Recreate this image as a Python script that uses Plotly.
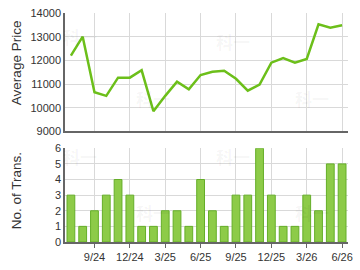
import plotly.graph_objects as go

months = ["7/24", "8/24", "9/24", "10/24", "11/24", "12/24", "1/25", "2/25", "3/25",
          "4/25", "5/25", "6/25", "7/25", "8/25", "9/25", "10/25", "11/25", "12/25",
          "1/26", "2/26", "3/26", "4/26", "5/26", "6/26"]
avg_price = [12200, 13000, 10650, 10500, 11270, 11270, 11580, 9850, 10500,
             11100, 10780, 11380, 11520, 11560, 11220, 10720, 10980, 11900,
             12100, 11900, 12060, 13520, 13380, 13480]
transactions = [3, 1, 2, 3, 4, 3, 1, 1, 2, 2, 1, 4, 2, 1, 3, 3, 6, 3, 1, 1, 3, 2, 5, 5]
tick_labels = ["9/24", "12/24", "3/25", "6/25", "9/25", "12/25", "3/26", "6/26"]
price_ticks = [9000, 10000, 11000, 12000, 13000, 14000]
price_tick_text = ["9000", "10000", "11000", "12000", "13000", "14000"]
trans_ticks = [0, 1, 2, 3, 4, 5, 6]

W, H = 360, 270
L, R, T, B = 65, 7, 7, 26
pw, ph = W - L - R, H - T - B

def px(x):
    return (x - L) / pw

def py(y):
    return (H - B - y) / ph

fig = go.Figure()
fig.add_trace(go.Scatter(x=months, y=avg_price, mode="lines",
                         line=dict(color="#6cbf1a", width=2.5),
                         xaxis="x", yaxis="y", hoverinfo="skip"))
fig.add_trace(go.Bar(x=months, y=transactions, width=0.66,
                     marker=dict(color="#8dcb48", line=dict(color="#65ae28", width=1)),
                     xaxis="x2", yaxis="y2", hoverinfo="skip"))

font_family = "Liberation Sans, Arial, sans-serif"
grid = "#d9d9d9"
axis_col = "#666666"

common_x = dict(type="category", categoryorder="array", categoryarray=months,
                range=[-0.5, 23.5], tickvals=tick_labels, ticktext=tick_labels,
                showgrid=True, gridcolor=grid, gridwidth=1, showline=True,
                linecolor=axis_col, linewidth=1.5, zeroline=False)

top_bottom = py(129.5)
bot_top = py(147)

fig.update_layout(
    width=W, height=H,
    margin=dict(l=L, r=R, t=T, b=B),
    paper_bgcolor="white", plot_bgcolor="white",
    showlegend=False,
    font=dict(family=font_family, size=11, color="#333333"),
    xaxis=dict(**common_x, domain=[0, 1], anchor="y", showticklabels=False, ticks=""),
    yaxis=dict(domain=[top_bottom, 1], range=[9000, 14000], tickvals=price_ticks,
               ticktext=price_tick_text,
               showgrid=True, gridcolor=grid, showline=True, linecolor=axis_col,
               linewidth=1.5, zeroline=False, ticks="", tickfont=dict(size=11)),
    xaxis2=dict(**common_x, domain=[0, 1], anchor="y2", ticks="outside", ticklen=4,
                tickcolor=axis_col, tickfont=dict(size=11)),
    yaxis2=dict(domain=[0, bot_top], range=[0, 6], tickvals=trans_ticks,
                showgrid=True, gridcolor=grid, showline=True, linecolor=axis_col,
                linewidth=1.5, zeroline=False, ticks="", tickfont=dict(size=11)),
)

annotations = [
    dict(text="Average Price", x=px(15), y=py(58), xref="paper", yref="paper",
         textangle=-90, showarrow=False, xanchor="center", yanchor="middle",
         font=dict(size=13.5, color="#333333", family=font_family)),
    dict(text="No. of Trans.", x=px(15), y=py(190.5), xref="paper", yref="paper",
         textangle=-90, showarrow=False, xanchor="center", yanchor="middle",
         font=dict(size=13.5, color="#333333", family=font_family)),
]
for (wx, wy) in [(80, 31), (155, 95), (236, 36), (316, 96),
                 (80, 156), (155, 213), (236, 156), (316, 213)]:
    annotations.append(dict(text="<b>科一</b>", x=px(wx), y=py(wy), xref="paper", yref="paper",
                            showarrow=False, xanchor="center", yanchor="middle",
                            font=dict(size=17, color="rgba(0,0,0,0.05)",
                                      family="Noto Sans CJK SC")))
fig.update_layout(annotations=annotations)

fig.write_html("out.html")
